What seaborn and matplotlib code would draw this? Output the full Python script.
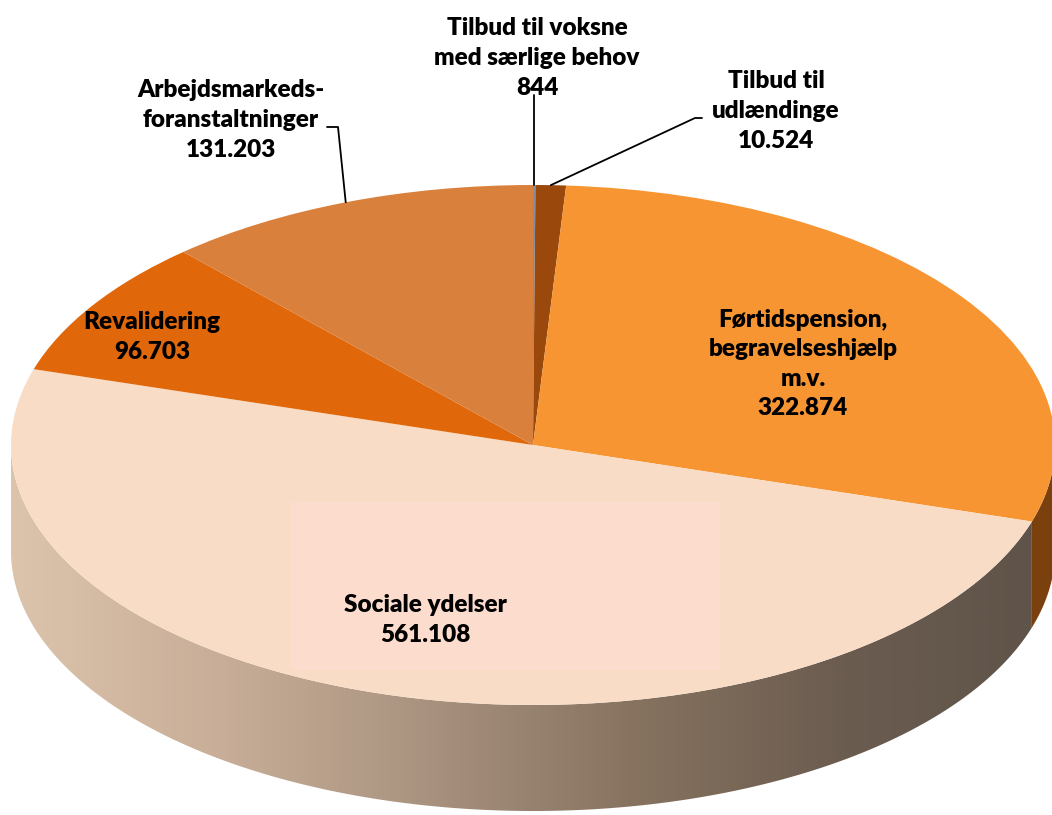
import numpy as np
import matplotlib
matplotlib.use("Agg")
import matplotlib.pyplot as plt
import seaborn as sns
from matplotlib.patches import Polygon, Rectangle
from matplotlib.colors import LinearSegmentedColormap

# ---- data ----
categories = ["Tilbud til voksne\nmed særlige behov", "Tilbud til\nudlændinge",
              "Førtidspension,\nbegravelseshjælp\nm.v.", "Sociale ydelser",
              "Revalidering", "Arbejdsmarkeds-\nforanstaltninger"]
values = [844, 10524, 322874, 561108, 96703, 131203]
value_labels = ["844", "10.524", "322.874", "561.108", "96.703", "131.203"]
top_colors = ["#7f8fa6", "#9a480c", "#f79533", "#f9dcc6", "#e1680a", "#d9803c"]
side_colors = ["#555e6a", "#6a320a", "#7a410f", None, "#8a4006", "#80471d"]

sns.set_theme(style="white")
plt.rcParams['font.family'] = ['Lato', 'DejaVu Sans']

W, H = 1052, 815
CX, CY, RX, RY = 533, 445, 522, 260
DEPTH = 106 / RY

fig = plt.figure(figsize=(W / 100, H / 100), dpi=100)
ax = fig.add_axes([0, 0, 1, 1])

def px(x, y):
    return (x - CX) / RX, (CY - y) / RY

# angles of slices (clockwise from 90 deg)
total = sum(values)
bounds = [90.0]
for v in values:
    bounds.append(bounds[-1] - 360.0 * v / total)

# ---- side of the cylinder ----
def side_poly(a0, a1, n=200):
    t = np.radians(np.linspace(a0, a1, n))
    top = np.column_stack([np.cos(t), np.sin(t)])
    bot = np.column_stack([np.cos(t[::-1]), np.sin(t[::-1]) - DEPTH])
    return np.vstack([top, bot])

front_lo, front_hi = -180.0, 0.0  # visible front half (angles in degrees)
grad_cmap = LinearSegmentedColormap.from_list(
    "side", ["#dcc3ab", "#c8ae98", "#a8927f", "#86725f", "#6b5c50", "#5e5349"])
for i in range(len(values)):
    a_hi, a_lo = bounds[i], bounds[i + 1]
    for shift in (0, -360, 360):
        lo, hi = a_lo + shift, a_hi + shift
        lo_c, hi_c = max(lo, front_lo), min(hi, front_hi)
        if hi_c > lo_c:
            poly = Polygon(side_poly(lo_c, hi_c), closed=True, linewidth=0,
                           zorder=0.5)
            if side_colors[i] is None:
                poly.set_facecolor("none")
                ax.add_patch(poly)
                grad = np.linspace(0, 1, 400).reshape(1, -1)
                im = ax.imshow(grad, cmap=grad_cmap, aspect="auto",
                               extent=(-1, 1, -1 - DEPTH, 0.2), zorder=0.4,
                               interpolation="bilinear")
                im.set_clip_path(poly)
            else:
                poly.set_facecolor(side_colors[i])
                ax.add_patch(poly)

# ---- top face ----
wedges, _ = ax.pie(values, colors=top_colors, startangle=90, counterclock=False,
                   radius=1, center=(0, 0), wedgeprops=dict(linewidth=0))
for w in wedges:
    w.set_zorder(1)

# label area box of the large slice
x0, y0 = px(291, 670)
x1, y1 = px(720, 502)
ax.add_patch(Rectangle((x0, y0), x1 - x0, y1 - y0, facecolor="#fcdccc",
                       edgecolor="none", zorder=1.5))

# ---- labels ----
label_pos = [(537, 58), (776, 111), (803, 364), (425, 620), (152, 337), (231, 120)]
fs = 17.5
for i, (cat, val) in enumerate(zip(categories, value_labels)):
    x, y = px(*label_pos[i])
    ax.text(x, y, f"{cat}\n{val}", ha="center", va="center", fontsize=fs,
            fontweight="heavy", color="black", linespacing=1.42, zorder=3)

def rim(i):
    a = np.radians((bounds[i] + bounds[i + 1]) / 2)
    return np.cos(a), np.sin(a)

ex, ey = rim(0)
sx, sy = px(537, 95)
ax.plot([ex, ex], [sy, ey], color="black", lw=1.3, zorder=3)
ex, ey = rim(1)
ax.plot([px(702, 118)[0], px(695, 118)[0], ex], [px(702, 118)[1], px(695, 118)[1], ey],
        color="black", lw=1.3, zorder=3)
ex, ey = rim(5)
ax.plot([px(327, 127)[0], px(338, 127)[0], ex], [px(327, 127)[1], px(338, 127)[1], ey],
        color="black", lw=1.3, zorder=3)

ax.set_aspect("auto")
ax.set_xlim(px(0, 0)[0], px(W, 0)[0])
ax.set_ylim(px(0, H)[1], px(0, 0)[1])
ax.axis("off")

fig.savefig("out.png", dpi=100, facecolor="white")
